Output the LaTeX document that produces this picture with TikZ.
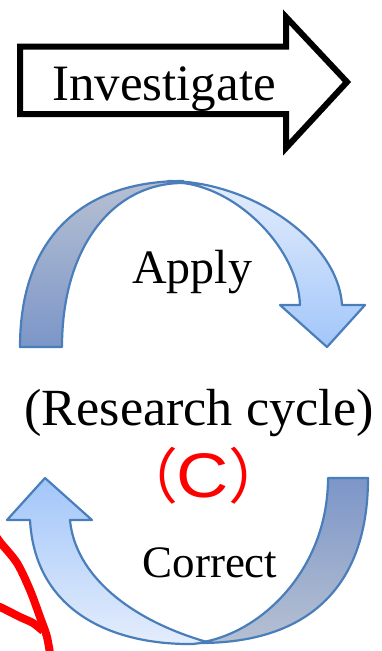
\documentclass[tikz,border=0pt]{standalone}
\usepackage{fontspec}
\setmainfont{Liberation Serif}
\newfontfamily\labelsans{Liberation Sans}
\newfontfamily\cjkfont{Noto Sans CJK JP}

\definecolor{ribbonline}{RGB}{74,126,187}
\definecolor{backtop}{RGB}{182,192,210}
\definecolor{backbottom}{RGB}{124,150,200}
\definecolor{fronttop}{RGB}{228,237,252}
\definecolor{frontbottom}{RGB}{162,198,250}
\definecolor{markred}{RGB}{255,0,0}

\tikzset{
  bigarrow/.style={draw=black, line width=6pt, fill=white, miter limit=20},
  ribbon/.style={draw=ribbonline, line width=2.2pt, line join=round},
  backpiece/.style={ribbon, top color=backtop, bottom color=backbottom},
  backpieceup/.style={ribbon, top color=backbottom, bottom color=backtop},
  frontpiece/.style={ribbon, top color=fronttop, bottom color=frontbottom},
  frontpieceup/.style={ribbon, top color=frontbottom, bottom color=fronttop},
  word/.style={inner sep=0pt, anchor=base, text=black},
  redmark/.style={line width=8pt, draw=markred, line cap=butt},
}

\begin{document}
\begin{tikzpicture}[x=1pt, y=-1pt]
\useasboundingbox (0,0) rectangle (382,651);
\clip (0,0) rectangle (382,651);

% block arrow at the top
\path[bigarrow] (20,46.5) -- (286,46.5) -- (286,17) -- (347,82)
  -- (286,148) -- (286,114) -- (20,114) -- cycle;
\node[word, font=\fontsize{51}{51}\selectfont] (investigate) at (164,100) {Investigate};

% upper curved arrow: back half
\path[backpiece]
  (20,347) .. controls (20,237) and (83,181) .. (183,181)
  -- (183,183) .. controls (113,183) and (62,247) .. (62,347)
  -- cycle;
% upper curved arrow: front half with head
\path[frontpiece]
  (168,181) .. controls (250,181) and (338,240) .. (342,305)
  -- (365,305) -- (327,347) -- (280,305) -- (300,305)
  .. controls (298,250) and (240,190) .. (183,183)
  -- cycle;
\node[word, font=\fontsize{48}{48}\selectfont] (apply) at (192,283) {Apply};

\node[word, font=\fontsize{52.2}{52.2}\selectfont] (cycle) at (199,425) {(Research cycle)};

% red label
\node[inner sep=0pt, anchor=base east, text=markred, font=\cjkfont\fontsize{60}{60}\selectfont] (lpar) at (179,498) {（};
\node[inner sep=0pt, anchor=base, text=markred, font=\labelsans\fontsize{63}{63}\selectfont] (letter) at (203,497) {\scalebox{1.15}[1]{C}};
\node[inner sep=0pt, anchor=base west, text=markred, font=\cjkfont\fontsize{60}{60}\selectfont] (rpar) at (228,498) {）};

% lower curved arrow: back half
\path[backpieceup]
  (368,478) .. controls (368,590) and (305,643) .. (200,643)
  -- (197,643) .. controls (260,635) and (328,570) .. (328,478)
  -- cycle;
% lower curved arrow: front half with head
\path[frontpieceup]
  (30,520) .. controls (35,610) and (110,645) .. (193,644)
  -- (207,642) .. controls (130,620) and (75,575) .. (70,520)
  -- (92,520) -- (45,478) -- (7,520) -- cycle;
\node[word, font=\fontsize{45}{45}\selectfont] (correct) at (210,577) {Correct};

% red strokes entering from the lower left
\draw[redmark] plot[smooth] coordinates {(-6,533) (0,542) (17,563) (30,590) (40,617) (47,637) (51,660)};
\draw[redmark] plot[smooth] coordinates {(-6,606) (0,607) (20,617) (33,623) (43,631)};
\end{tikzpicture}
\end{document}
